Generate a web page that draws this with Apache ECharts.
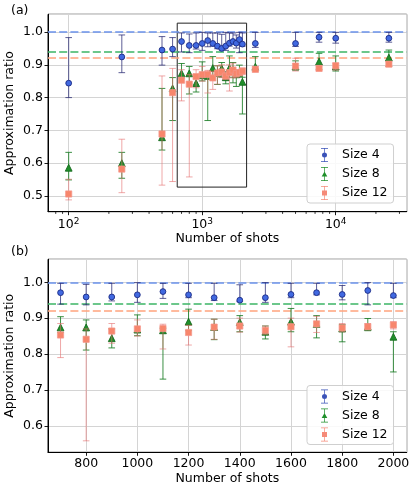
<!DOCTYPE html>
<html><head><meta charset="utf-8">
<script src="https://cdn.jsdelivr.net/npm/echarts@6/dist/echarts.min.js"></script>
<style>html,body{margin:0;padding:0;background:#fff}#c{width:416px;height:492px}</style>
</head><body><div id="c"></div><script>
// ---------------- data ----------------
const shots = [100,250,500,600,700,800,900,1000,1100,1200,1300,1400,1500,1600,1700,1800,1900,2000,2500,5000,7500,10000,25000];

const size4Mean = [0.844,0.924,0.945,0.948,0.971,0.959,0.959,0.965,0.974,0.965,0.957,0.950,0.957,0.966,0.971,0.966,0.977,0.963,0.965,0.965,0.984,0.981,0.981];
const size4Low  = [0.800,0.876,0.899,0.925,0.939,0.937,0.948,0.944,0.955,0.957,0.949,0.946,0.944,0.957,0.965,0.951,0.937,0.957,0.953,0.956,0.969,0.966,0.969];
const size4High = [0.983,0.991,0.986,0.983,0.997,0.994,0.997,0.999,0.997,0.997,0.997,0.993,0.999,0.997,0.997,0.991,0.999,0.997,0.999,0.999,0.999,0.999,0.999];

const size8Mean = [0.586,0.600,0.679,0.828,0.874,0.874,0.844,0.868,0.866,0.890,0.875,0.889,0.862,0.890,0.884,0.871,0.876,0.848,0.894,0.895,0.910,0.895,0.922];
const size8Low  = [0.549,0.554,0.640,0.730,0.860,0.811,0.817,0.851,0.730,0.865,0.840,0.862,0.842,0.862,0.845,0.834,0.865,0.750,0.886,0.884,0.886,0.881,0.895];
const size8High = [0.633,0.633,0.828,0.861,0.904,0.895,0.870,0.909,0.872,0.925,0.897,0.907,0.878,0.927,0.907,0.882,0.899,0.862,0.925,0.912,0.935,0.927,0.945];

const size12Mean = [0.506,0.582,0.689,0.815,0.853,0.841,0.864,0.870,0.871,0.860,0.875,0.878,0.866,0.876,0.884,0.873,0.876,0.881,0.886,0.896,0.889,0.897,0.902];
const size12Low  = [0.488,0.510,0.533,0.544,0.790,0.558,0.830,0.850,0.814,0.825,0.841,0.861,0.855,0.820,0.860,0.862,0.868,0.870,0.880,0.881,0.882,0.884,0.895];
const size12High = [0.551,0.673,0.866,0.889,0.885,0.870,0.885,0.895,0.883,0.880,0.897,0.900,0.878,0.900,0.905,0.885,0.885,0.890,0.895,0.920,0.897,0.905,0.910];

const seriesNames = ['Size 4','Size 8','Size 12'];
const refLines = [1.0, 0.942, 0.922];
const zoomBoxX = [650, 2150];
const zoomBoxY = [0.527, 1.027];
const zoomRange = [700, 2000];
const minorTicksA = [80,90,200,300,400,500,600,700,800,900,2000,3000,4000,5000,6000,7000,8000,9000,20000,30000];

// ---------------- styles ----------------
const FONT = 'DejaVu Sans';
const FS = 12.5;
const styles = [
  {sym:'circle', size:5.8, fill:'#4169e1', edge:'#1c2b85', bar:'rgba(30,32,110,0.72)', line:'#6b93ec', legend:'#3a52b8',
   icon:'path://M0.5,0H7.5V0.7H4.35V13.3H7.5V14H0.5V13.3H3.65V0.7H0.5Z M4,4.5A2.5,2.5 0 0,1 4,9.5A2.5,2.5 0 0,1 4,4.5Z'},
  {sym:'triangle', size:6.8, fill:'#1f8f2a', edge:'#146a1c', bar:'rgba(25,125,35,0.85)', line:'#3db565', legend:'#1f8f2a',
   icon:'path://M0.5,0H7.5V0.7H4.35V13.3H7.5V14H0.5V13.3H3.65V0.7H0.5Z M4,4.4L6.8,9.6H1.2Z'},
  {sym:'rect', size:6.2, fill:'#f7866c', edge:'rgba(245,150,140,0.8)', bar:'rgba(228,110,110,0.6)', line:'#ffa47e', legend:'#f58a78',
   icon:'path://M0.5,0H7.5V0.7H4.35V13.3H7.5V14H0.5V13.3H3.65V0.7H0.5Z M1.5,4.5H6.5V9.5H1.5Z'}
];
const means = [size4Mean, size8Mean, size12Mean];
const lows = [size4Low, size8Low, size12Low];
const highs = [size4High, size8High, size12High];

function errRender(color){
  return function(params, api){
    const x = api.value(0), lo = api.value(1), hi = api.value(2);
    const p1 = api.coord([x, lo]), p2 = api.coord([x, hi]);
    const cx = p1[0], c = 3.3;
    const st = {stroke: color, lineWidth: 1};
    return {type:'group', children:[
      {type:'line', shape:{x1:cx,y1:p1[1],x2:cx,y2:p2[1]}, style:st},
      {type:'line', shape:{x1:cx-c,y1:p1[1],x2:cx+c,y2:p1[1]}, style:st},
      {type:'line', shape:{x1:cx-c,y1:p2[1],x2:cx+c,y2:p2[1]}, style:st}
    ]};
  };
}

const yMin = [0.452, 0.526];
const yMax = [1.054, 1.064];

const series = [];
for (let g = 0; g < 2; g++) {
  for (let s = 0; s < 3; s++) {
    const idx = shots.map((x,i)=>i).filter(i => g === 0 || (shots[i] >= zoomRange[0] && shots[i] <= zoomRange[1]));
    series.push({
      type:'custom', xAxisIndex:g, yAxisIndex:g, silent:true, clip:false,
      renderItem: errRender(styles[s].bar),
      encode:{x:0, y:[1,2]},
      data: idx.map(i => [shots[i], lows[s][i], highs[s][i]]),
      z: 3 + s*2
    });
    const sc = {
      type:'scatter', name: seriesNames[s], xAxisIndex:g, yAxisIndex:g, silent:true,
      symbol: styles[s].sym, symbolSize: styles[s].size,
      itemStyle:{color: styles[s].fill, borderColor: styles[s].edge, borderWidth: 0.9, opacity:1},
      data: idx.map(i => [shots[i], means[s][i]]),
      z: 4 + s*2,
      markLine: {
        silent:true, symbol:['none','none'], label:{show:false},
        lineStyle:{color: styles[s].line, type:[8,3.2], width:1.6, opacity:1},
        data:[{yAxis: refLines[s]}], z: 2
      }
    };
    if (g === 0 && s === 0) {
      sc.markArea = {
        silent:true,
        itemStyle:{color:'rgba(0,0,0,0)', borderColor:'#222', borderWidth:1},
        data:[[{coord:[zoomBoxX[0], zoomBoxY[0]]},{coord:[zoomBoxX[1], zoomBoxY[1]]}]]
      };
    }
    series.push(sc);
  }
}
// minor ticks for log axis
series.push({
  type:'custom', xAxisIndex:0, yAxisIndex:0, silent:true, clip:false,
  data: minorTicksA.map(v => [v]),
  encode:{x:0},
  renderItem: function(params, api){
    const p = api.coord([api.value(0), yMin[0]]);
    return {type:'line', shape:{x1:p[0],y1:p[1],x2:p[0],y2:p[1]+2.2}, style:{stroke:'#000', lineWidth:0.8}};
  },
  z: 10
});

function common(extra){
  return Object.assign({
    axisLine:{show:true, lineStyle:{color:'#000', width:1}},
    axisTick:{show:true, length:3.5, lineStyle:{color:'#000', width:0.9}},
    splitLine:{show:true, lineStyle:{color:'#d4d4d4', width:1}},
    nameLocation:'middle',
    nameTextStyle:{fontFamily:FONT, fontSize:FS, color:'#000'}
  }, extra);
}

const legends = [0,1].map(g => ({
  orient:'vertical', left:307, top: g===0 ? 144 : 385.5,
  padding:[4, 6, 3, 14], itemGap:5, itemWidth:7, itemHeight:14,
  backgroundColor:'rgba(255,255,255,0.85)', borderColor:'#cfcfcf', borderWidth:1, borderRadius:3,
  textStyle:{fontFamily:FONT, fontSize:FS, color:'#000', padding:[0,0,0,9]},
  selectedMode:false,
  data: seriesNames.map((n,s)=>({name:n, icon: styles[s].icon, itemStyle:{color: styles[s].legend, borderWidth:0}}))
}));

const option = {
  animation:false,
  backgroundColor:'#fff',
  textStyle:{fontFamily:FONT},
  title:[
    {text:'(a)', left:11, top:4, padding:0, textStyle:{fontFamily:FONT, fontSize:FS, fontWeight:'normal', color:'#000'}},
    {text:'(b)', left:11, top:245, padding:0, textStyle:{fontFamily:FONT, fontSize:FS, fontWeight:'normal', color:'#000'}}
  ],
  legend: legends,
  grid:[
    {left:48, top:14.3, width:358.7, height:197.4, show:true, borderColor:'#111', borderWidth:1, containLabel:false, outerBoundsMode:'none'},
    {left:48, top:259.3, width:358.7, height:193, show:true, borderColor:'#111', borderWidth:1, containLabel:false, outerBoundsMode:'none'}
  ],
  xAxis:[
    common({type:'log', logBase:10, gridIndex:0, min:70, max:34000, name:'Number of shots', nameGap:20,
      axisLabel:{fontFamily:FONT, fontSize:FS, color:'#000', margin:5, showMinLabel:false, showMaxLabel:false,
        formatter: v => { const e = String(Math.round(Math.log10(v))); return '{b|10}{s|' + e + '}'; },
        rich:{b:{fontFamily:FONT, fontSize:FS, color:'#000', verticalAlign:'bottom', lineHeight:15},
              s:{fontFamily:FONT, fontSize:9, color:'#000', verticalAlign:'top', lineHeight:9}}}
    }),
    common({type:'value', gridIndex:1, min:651, max:2052, splitNumber:7, name:'Number of shots', nameGap:20,
      axisLabel:{fontFamily:FONT, fontSize:FS, color:'#000', margin:5, showMinLabel:false, showMaxLabel:false,
        formatter: v => String(Math.round(v))}
    })
  ],
  yAxis:[
    common({type:'value', gridIndex:0, min:yMin[0], max:yMax[0], splitNumber:6, name:'Approximation ratio', nameGap:32, nameMoveOverlap:false,
      axisLabel:{fontFamily:FONT, fontSize:FS, color:'#000', margin:5, showMinLabel:false, showMaxLabel:false,
        formatter: v => v.toFixed(1)}
    }),
    common({type:'value', gridIndex:1, min:yMin[1], max:yMax[1], splitNumber:5, name:'Approximation ratio', nameGap:32, nameMoveOverlap:false,
      axisLabel:{fontFamily:FONT, fontSize:FS, color:'#000', margin:5, showMinLabel:false, showMaxLabel:false,
        formatter: v => v.toFixed(1)}
    })
  ],
  series: series
};

const chart = echarts.init(document.getElementById('c'), null, {renderer:'canvas'});
chart.setOption(option);
</script></body></html>
